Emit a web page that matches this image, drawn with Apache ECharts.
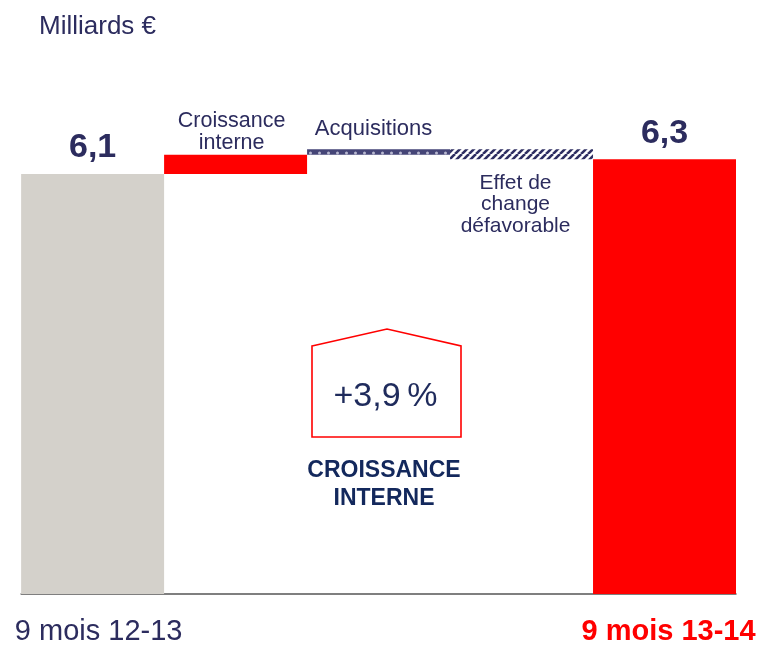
<!DOCTYPE html>
<html>
<head>
<meta charset="utf-8">
<style>
  html, body { margin: 0; padding: 0; background: #ffffff; }
  #chart { width: 759px; height: 646px; }
</style>
<script src="https://cdn.jsdelivr.net/npm/echarts@6/dist/echarts.min.js"></script>
</head>
<body>
<div id="chart"></div>
<script>
// ---- data ----
const categories = ['9 mois 12-13', 'Croissance interne', 'Acquisitions', 'Effet de change défavorable', '9 mois 13-14'];
const startValue = 6.1;
const endValue = 6.3;
const stepDeltas = [0.26, 0.073, -0.133];          // croissance interne, acquisitions, effet de change
const totalLabels = ['6,1', '', '', '', '6,3'];
const stepLabels = ['', 'Croissance\ninterne', 'Acquisitions', 'Effet de\nchange\ndéfavorable', ''];
const growthText = '+3,9\u2009%';
const growthCaption = ['CROISSANCE', 'INTERNE'];
const unitTitle = 'Milliards €';

// ---- colours ----
const NAVY = '#2c2c5e';
const RED = '#ff0000';
const GREY = '#d4d1cb';

// ---- patterns ----
function stripePattern() {
  const c = document.createElement('canvas');
  c.width = 7; c.height = 7;
  const ctx = c.getContext('2d');
  ctx.fillStyle = '#ffffff';
  ctx.fillRect(0, 0, 7, 7);
  ctx.strokeStyle = '#2e2e62';
  ctx.lineWidth = 2.6;
  [-7, 0, 7].forEach(function (o) {
    ctx.beginPath();
    ctx.moveTo(o, 7);
    ctx.lineTo(o + 7, 0);
    ctx.stroke();
  });
  return c;
}
function dotPattern() {
  const c = document.createElement('canvas');
  c.width = 9; c.height = 6;
  const ctx = c.getContext('2d');
  ctx.fillStyle = '#454577';
  ctx.fillRect(0, 0, 9, 6);
  ctx.fillStyle = '#b8b8d0';
  ctx.beginPath();
  ctx.arc(4.5, 3, 1.5, 0, Math.PI * 2);
  ctx.fill();
  return c;
}

// ---- waterfall build ----
const baseVals = [0];
const barVals = [startValue];
let running = startValue;
stepDeltas.forEach(function (d) {
  if (d >= 0) { baseVals.push(running); barVals.push(d); running += d; }
  else { running += d; baseVals.push(running); barVals.push(-d); }
});
baseVals.push(0);
barVals.push(endValue);

const fills = [GREY, RED, { image: dotPattern(), repeat: 'repeat' }, { image: stripePattern(), repeat: 'repeat' }, RED];

const visibleData = barVals.map(function (v, i) {
  const item = { value: v, itemStyle: { color: fills[i] } };
  if (totalLabels[i]) {
    item.label = {
      show: true, position: 'top', distance: 9,
      formatter: totalLabels[i],
      fontFamily: 'Liberation Sans', fontWeight: 'bold', fontSize: 34, color: NAVY
    };
  } else if (stepLabels[i]) {
    const pos = { 1: ['top', 1, [-4, 0], 21.5, 21.5], 2: ['top', 9, [-5, 0], 22, 22], 3: ['bottom', 13, [-6, 0], 21, 21.5] }[i];
    item.label = {
      show: true, position: pos[0], distance: pos[1], offset: pos[2],
      formatter: stepLabels[i],
      fontFamily: 'Liberation Sans', fontSize: pos[3], lineHeight: pos[4], color: NAVY, align: 'center'
    };
  }
  return item;
});

const chart = echarts.init(document.getElementById('chart'), null, { renderer: 'canvas' });
chart.setOption({
  animation: false,
  backgroundColor: '#ffffff',
  title: {
    text: unitTitle, left: 34, top: 9,
    textStyle: { fontFamily: 'Liberation Sans', fontSize: 26, fontWeight: 'normal', color: NAVY }
  },
  grid: { left: 19, right: 23, top: 107, bottom: 49, containLabel: false },
  xAxis: {
    type: 'category',
    data: categories,
    axisTick: { show: false },
    axisLine: { show: true, lineStyle: { color: '#555555', width: 1.5 } },
    axisLabel: {
      interval: 0, margin: 23,
      formatter: function (v, i) {
        if (i === 0) return '{a|' + v + '}';
        if (i === categories.length - 1) return '{b|' + v + '}';
        return '';
      },
      rich: {
        a: { fontFamily: 'Liberation Sans', fontSize: 29, lineHeight: 29, color: NAVY, padding: [0, 0, 0, 12] },
        b: { fontFamily: 'Liberation Sans', fontSize: 29, lineHeight: 29, fontWeight: 'bold', color: RED, padding: [0, 0, 0, 8] }
      }
    }
  },
  yAxis: {
    type: 'value', min: 0.47, max: 7.0, show: false, splitLine: { show: false }
  },
  series: [
    {
      type: 'bar', stack: 'w', data: baseVals, barCategoryGap: 0, barGap: 0,
      itemStyle: { color: 'transparent' }, silent: true
    },
    {
      type: 'bar', stack: 'w', data: visibleData, barCategoryGap: 0, barGap: 0
    }
  ],
  graphic: [
    {
      type: 'polygon',
      shape: { points: [[312, 346], [387, 329], [461, 346], [461, 437], [312, 437]] },
      style: { fill: 'none', stroke: RED, lineWidth: 1.6 }
    },
    {
      type: 'text', x: 385.5, y: 397,
      style: { text: growthText, font: '34px "Liberation Sans"', fill: '#1f2b5c', align: 'center', verticalAlign: 'middle' }
    },
    {
      type: 'text', x: 384, y: 471,
      style: { text: growthCaption[0], font: 'bold 23px "Liberation Sans"', fill: '#13285c', align: 'center', verticalAlign: 'middle' }
    },
    {
      type: 'text', x: 384, y: 498.5,
      style: { text: growthCaption[1], font: 'bold 23px "Liberation Sans"', fill: '#13285c', align: 'center', verticalAlign: 'middle' }
    }
  ]
});
</script>
</body>
</html>
